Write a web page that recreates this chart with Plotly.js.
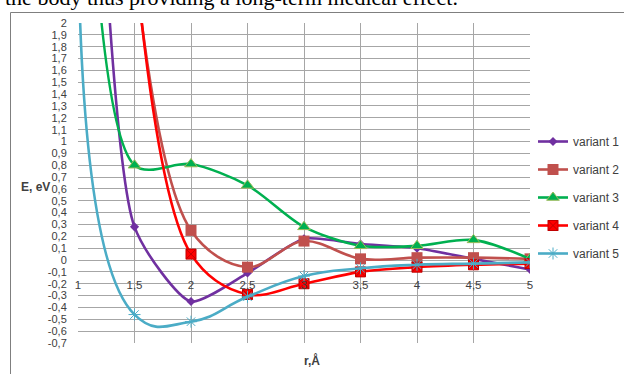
<!DOCTYPE html>
<html>
<head>
<meta charset="utf-8">
<script src="https://cdn.plot.ly/plotly-3.0.1.min.js"></script>
<style>html,body{margin:0;padding:0;background:#fff;}#chart{width:624px;height:374px;}</style>
</head>
<body>
<div id="chart"></div>
<script>
// Data
const r1 = [1, 1.5, 2, 2.5, 3, 3.5, 4, 4.5, 5];
const variant1 = [8, 0.28, -0.35, -0.11, 0.18, 0.135, 0.10, 0.01, -0.08];
const variant3 = [6.5, 0.80, 0.81, 0.63, 0.28, 0.12, 0.12, 0.17, 0.01];
const variant5 = [2.8, -0.46, -0.52, -0.31, -0.135, -0.07, -0.04, -0.03, -0.02];
const r2 = [1.5, 2, 2.5, 3, 3.5, 4, 4.5, 5];
const variant2 = [2.5, 0.25, -0.06, 0.16, 0.01, 0.02, 0.02, 0.01];
const variant4 = [2.6, 0.05, -0.29, -0.20, -0.10, -0.06, -0.04, -0.03];
const seriesNames = ['variant 1', 'variant 2', 'variant 3', 'variant 4', 'variant 5'];
const xTickVals = [1, 1.5, 2, 2.5, 3, 3.5, 4, 4.5, 5];
const xTickLabels = ['1', '1,5', '2', '2,5', '3', '3,5', '4', '4,5', '5'];
const yTickVals = [2,1.9,1.8,1.7,1.6,1.5,1.4,1.3,1.2,1.1,1,0.9,0.8,0.7,0.6,0.5,0.4,0.3,0.2,0.1,0,-0.1,-0.2,-0.3,-0.4,-0.5,-0.6,-0.7];
const yTickLabels = ['2','1,9','1,8','1,7','1,6','1,5','1,4','1,3','1,2','1,1','1','0,9','0,8','0,7','0,6','0,5','0,4','0,3','0,2','0,1','0','-0,1','-0,2','-0,3','-0,4','-0,5','-0,6','-0,7'];

const FONT = '"Liberation Sans", Arial, sans-serif';

function tr(x, y, name, color, sym, msize, mcolor, lcolor, lw, grp, sm) {
  return {
    x: x, y: y, name: name, type: 'scatter', mode: 'lines+markers',
    line: {color: color, width: 2.6, shape: 'spline', smoothing: sm},
    marker: {symbol: sym, size: msize, color: mcolor, line: {color: lcolor, width: lw}},
    legendgroup: grp
  };
}

const data = [
  tr(r1, variant1, seriesNames[0], '#7030A0', 'diamond', 7, '#7030A0', '#7030A0', 0, 'a', 0.6),
  tr(r2, variant2, seriesNames[1], '#C0504D', 'square', 11, '#C0504D', '#C0504D', 0, 'b', 1),
  tr(r1, variant3, seriesNames[2], '#00B050', 'triangle-up', 11, '#00B050', '#9BBB59', 1, 'c', 0.85),
  tr(r2, variant4, seriesNames[3], '#FF0000', 'square-x', 10, '#FF0000', '#C00000', 1, 'd', 1),
  tr(r1, variant5, seriesNames[4], '#4BACC6', 'asterisk-open', 10, '#4BACC6', '#93CDDD', 1, 'e', 1.3)
];

const plotTop = 23, plotBottom = 343, plotLeft = 78, plotRight = 530;
const H = plotBottom - plotTop, W = plotRight - plotLeft;
const py = p => (plotBottom - p) / H;
const px = p => (p - plotLeft) / W;

const layout = {
  width: 624, height: 374,
  margin: {l: plotLeft, r: 624 - plotRight, t: plotTop, b: 374 - plotBottom, pad: 0, autoexpand: false},
  paper_bgcolor: '#ffffff', plot_bgcolor: '#ffffff',
  separators: ', ',
  showlegend: true,
  font: {family: FONT, size: 12, color: '#404040'},
  xaxis: {
    range: [1, 5], tickvals: xTickVals, ticktext: xTickLabels,
    showgrid: true, gridcolor: '#a6a6a6', gridwidth: 1,
    zeroline: false, showline: false,
    anchor: 'free', position: 0.7 / 2.7,
    ticks: 'outside', ticklen: 14, tickcolor: 'rgba(0,0,0,0)',
    tickfont: {family: FONT, size: 11.5, color: '#404040'},
    automargin: false
  },
  yaxis: {
    range: [-0.7, 2], tickvals: yTickVals, ticktext: yTickLabels,
    showgrid: true, gridcolor: '#a6a6a6', gridwidth: 1,
    zeroline: false, showline: false,
    ticks: 'outside', ticklen: 8, tickcolor: 'rgba(0,0,0,0)',
    tickfont: {family: FONT, size: 11, color: '#404040'},
    automargin: false
  },
  legend: {
    x: px(533), y: py(127), xanchor: 'left', yanchor: 'top',
    bgcolor: 'rgba(0,0,0,0)', borderwidth: 0,
    font: {family: FONT, size: 12, color: '#404040'},
    tracegroupgap: 9, itemwidth: 30
  },
  shapes: [
    {type: 'rect', xref: 'paper', yref: 'paper', x0: px(10.5), x1: px(640), y0: py(390), y1: py(12.5),
     line: {color: '#7f7f7f', width: 1}, fillcolor: 'rgba(0,0,0,0)', layer: 'below'}
  ],
  annotations: [
    {text: '<b>E, eV</b>', xref: 'paper', yref: 'paper', x: px(35), y: py(187), showarrow: false,
     xanchor: 'center', yanchor: 'middle', font: {family: FONT, size: 12, color: '#404040'}},
    {text: '<b>r,Å</b>', xref: 'paper', yref: 'paper', x: px(312), y: py(360), showarrow: false,
     xanchor: 'center', yanchor: 'middle', font: {family: FONT, size: 12, color: '#404040'}},
    {text: 'the body thus providing a long-term medical effect.', xref: 'paper', yref: 'paper',
     x: px(3), y: py(12), showarrow: false, xanchor: 'left', yanchor: 'bottom',
     font: {family: '"Liberation Serif", "Times New Roman", serif', size: 22, color: '#000000'}}
  ]
};

Plotly.newPlot('chart', data, layout, {displayModeBar: false, staticPlot: true});
</script>
</body>
</html>
